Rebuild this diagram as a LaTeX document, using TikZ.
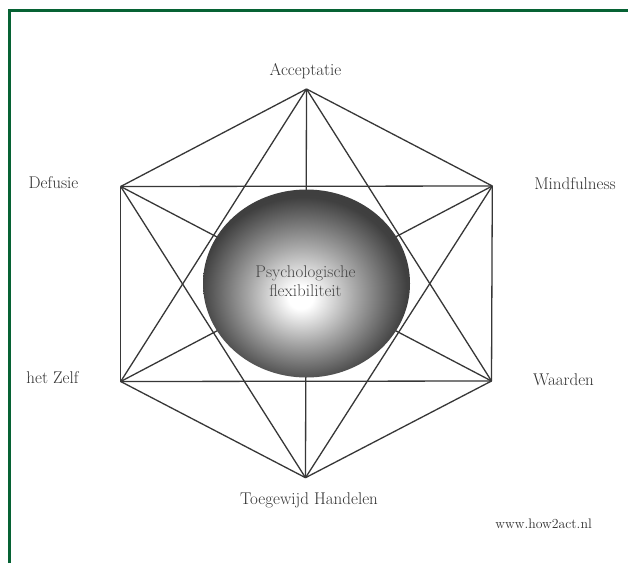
\documentclass[tikz,border=0pt]{standalone}
\usetikzlibrary{shapes.geometric}
\definecolor{framegreen}{RGB}{6,98,52}
\definecolor{linegray}{RGB}{55,55,55}
\definecolor{textgray}{RGB}{50,50,50}
\pgfdeclareradialshading{ballshade}{\pgfpoint{-1.5bp}{-4bp}}{%
  color(0bp)=(white);
  color(3bp)=(white);
  color(13bp)=(black!35);
  color(25bp)=(black!75);
  color(30bp)=(black!76);
  color(50bp)=(black!76)}
\begin{document}
\begin{tikzpicture}[x=1pt,y=-1pt,
  edge/.style={draw=linegray,line width=1.3pt},
  lbl/.style={text=textgray,font=\fontsize{17}{18}\selectfont,inner sep=0pt},
  small/.style={text=textgray,font=\fontsize{13.8}{16}\selectfont,inner sep=0pt}]
\useasboundingbox (0,0) rectangle (628,563);
\fill[white] (0,0) rectangle (628,563);
% frame
\draw[framegreen,line width=3pt] (9.5,563) -- (9.5,10.3) -- (628,10.3);
% vertices
\coordinate (T)  at (306.5,89);
\coordinate (UL) at (120.7,186.5);
\coordinate (UR) at (492.3,186);
\coordinate (LL) at (120.7,381.5);
\coordinate (LR) at (491.5,381);
\coordinate (B)  at (305.5,477.7);
% complete graph
\foreach \a/\b in {T/UL,T/UR,T/LL,T/LR,T/B,UL/UR,UL/LL,UL/LR,UL/B,UR/LL,UR/LR,UR/B,LL/LR,LL/B,LR/B}
  \draw[edge] (\a) -- (\b);
% central ball
\node[ellipse,minimum width=207pt,minimum height=188pt,inner sep=0pt,
  shading=ballshade] (ball) at (306.5,283.5) {};
\node[lbl,align=center,text=black!72] (core) at (305.5,281)
  {Psychologische\\[1pt]flexibiliteit};
% labels
\node[lbl] (acc) at (305.5,71) {Acceptatie};
\node[lbl] (def) at (53.5,182.5) {Defusie};
\node[lbl] (mind) at (575,183.5) {Mindfulness};
\node[lbl] (zelf) at (52.5,377.5) {het Zelf};
\node[lbl] (waard) at (563.5,379.5) {Waarden};
\node[lbl] (toeg) at (309,500) {Toegewijd Handelen};
\node[small] (url) at (543.5,523.5) {www.how2act.nl};
\end{tikzpicture}
\end{document}
